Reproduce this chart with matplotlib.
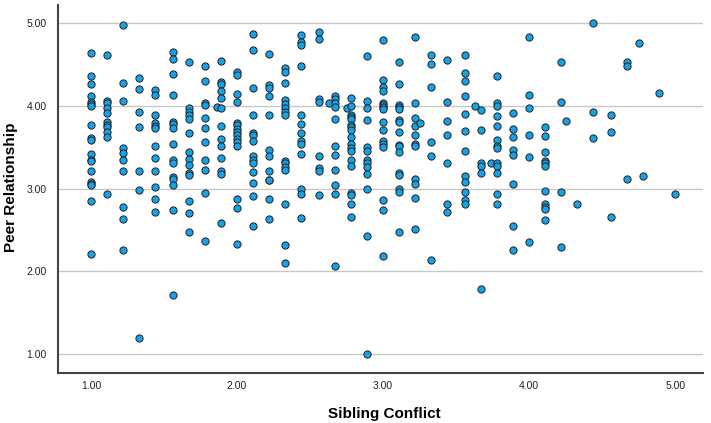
import matplotlib
matplotlib.use("Agg")
import matplotlib.pyplot as plt
import matplotlib.font_manager as fm

# Sibling Conflict (x) and Peer Relationship (y), grouped by x column
sibling_conflict = (
    [1.00]*19 + [1.11]*11 + [1.22]*10 + [1.33]*7 + [1.44]*12 + [1.56]*15 +
    [1.67]*14 + [1.78]*11 + [1.86]*1 + [1.89]*13 + [2.00]*15 + [2.11]*14 +
    [2.22]*12 + [2.33]*15 + [2.44]*13 + [2.56]*8 + [2.63]*1 + [2.67]*11 +
    [2.75]*1 + [2.78]*18 + [2.89]*13 + [3.00]*16 + [3.11]*16 + [3.22]*11 +
    [3.25]*1 + [3.33]*6 + [3.44]*7 + [3.56]*12 + [3.63]*1 + [3.67]*6 +
    [3.74]*1 + [3.78]*13 + [3.89]*8 + [4.00]*6 + [4.11]*11 + [4.22]*4 +
    [4.25]*1 + [4.33]*1 + [4.44]*3 + [4.56]*3 + [4.67]*3 + [4.75]*1 +
    [4.78]*1 + [4.89]*1 + [5.00]*1
)

peer_relationship = [
    # 1.00
    4.64, 4.36, 4.26, 4.12, 4.05, 4.02, 4.00, 3.77, 3.61, 3.59, 3.42, 3.35, 3.33, 3.21, 3.08, 3.06, 3.04, 2.85, 2.21,
    # 1.11
    4.62, 4.06, 4.03, 3.97, 3.92, 3.81, 3.77, 3.74, 3.68, 3.62, 2.93,
    # 1.22
    4.98, 4.28, 4.06, 3.49, 3.43, 3.35, 3.21, 2.78, 2.63, 2.26,
    # 1.33
    4.34, 4.21, 3.93, 3.75, 3.21, 2.98, 1.19,
    # 1.44
    4.19, 4.13, 3.89, 3.79, 3.76, 3.73, 3.52, 3.37, 3.21, 3.02, 2.87, 2.72,
    # 1.56
    4.65, 4.57, 4.39, 4.13, 3.81, 3.78, 3.73, 3.54, 3.35, 3.31, 3.14, 3.12, 3.04, 2.74, 1.71,
    # 1.67
    4.53, 3.97, 3.93, 3.89, 3.84, 3.67, 3.44, 3.36, 3.29, 3.19, 3.16, 2.85, 2.70, 2.48,
    # 1.78
    4.48, 4.30, 4.04, 4.01, 3.85, 3.73, 3.56, 3.35, 3.22, 2.95, 2.37,
    # 1.86
    3.99,
    # 1.89
    4.54, 4.29, 4.26, 4.18, 4.10, 3.97, 3.76, 3.60, 3.51, 3.37, 3.21, 3.18, 2.59,
    # 2.00
    4.41, 4.37, 4.15, 4.05, 3.80, 3.77, 3.72, 3.68, 3.65, 3.60, 3.56, 3.51, 2.88, 2.77, 2.33,
    # 2.11
    4.87, 4.68, 4.22, 3.89, 3.67, 3.65, 3.58, 3.39, 3.35, 3.31, 3.20, 3.07, 2.91, 2.55,
    # 2.22
    4.63, 4.25, 4.22, 4.12, 3.89, 3.47, 3.40, 3.21, 3.11, 3.10, 2.88, 2.63,
    # 2.33
    4.46, 4.41, 4.28, 4.07, 4.02, 3.97, 3.93, 3.89, 3.34, 3.31, 3.26, 3.22, 2.82, 2.32, 2.10,
    # 2.44
    4.86, 4.77, 4.74, 4.48, 3.89, 3.78, 3.67, 3.58, 3.54, 3.42, 3.00, 2.94, 2.65,
    # 2.56
    4.90, 4.81, 4.08, 4.05, 3.39, 3.25, 3.21, 2.92,
    # 2.63
    4.04,
    # 2.67
    4.12, 4.08, 4.03, 3.99, 3.84, 3.52, 3.41, 3.22, 3.04, 2.94, 2.07,
    # 2.75
    3.98,
    # 2.78
    4.10, 4.00, 3.89, 3.87, 3.84, 3.77, 3.74, 3.71, 3.62, 3.54, 3.49, 3.46, 3.35, 3.28, 2.95, 2.92, 2.82, 2.66,
    # 2.89
    4.61, 4.06, 3.97, 3.83, 3.50, 3.46, 3.35, 3.31, 3.26, 3.18, 3.00, 2.43, 1.00,
    # 3.00
    4.80, 4.31, 4.23, 4.18, 4.04, 4.01, 3.99, 3.96, 3.81, 3.71, 3.58, 3.54, 3.50, 2.86, 2.74, 2.18,
    # 3.11
    4.53, 4.26, 4.01, 3.99, 3.96, 3.83, 3.81, 3.69, 3.53, 3.52, 3.44, 3.19, 3.16, 3.00, 2.96, 2.47,
    # 3.22
    4.83, 4.03, 3.86, 3.76, 3.65, 3.54, 3.52, 3.12, 3.06, 2.89, 2.51,
    # 3.25
    3.80,
    # 3.33
    4.62, 4.51, 4.23, 3.57, 3.39, 2.14,
    # 3.44
    4.55, 4.05, 3.82, 3.65, 3.31, 2.82, 2.72,
    # 3.56
    4.62, 4.40, 4.30, 4.12, 3.90, 3.70, 3.45, 3.15, 3.08, 2.96, 2.86, 2.81,
    # 3.63
    4.00,
    # 3.67
    3.95, 3.71, 3.31, 3.27, 3.19, 1.79,
    # 3.74
    3.31,
    # 3.78
    4.36, 4.03, 4.00, 3.88, 3.76, 3.59, 3.51, 3.49, 3.31, 3.27, 3.19, 2.94, 2.82,
    # 3.89
    3.92, 3.72, 3.62, 3.47, 3.41, 3.06, 2.55, 2.26,
    # 4.00
    4.83, 4.13, 3.97, 3.65, 3.38, 2.36,
    # 4.11
    3.75, 3.64, 3.44, 3.34, 3.31, 3.27, 2.97, 2.81, 2.78, 2.75, 2.62,
    # 4.22
    4.53, 4.05, 2.96, 2.30,
    # 4.25
    3.82,
    # 4.33
    2.82,
    # 4.44
    5.00, 3.93, 3.61,
    # 4.56
    3.89, 3.68, 2.66,
    # 4.67
    4.53, 4.48, 3.12,
    # 4.75
    4.76,
    # 4.78
    3.15,
    # 4.89
    4.16,
    # 5.00
    2.93,
]

x_ticks = [1.0, 2.0, 3.0, 4.0, 5.0]
y_ticks = [1.0, 2.0, 3.0, 4.0, 5.0]
x_label = "Sibling Conflict"
y_label = "Peer Relationship"

plt.rcParams['font.family'] = ['Liberation Sans', 'DejaVu Sans']

fig = plt.figure(figsize=(7.11, 4.23), dpi=100)
ax = fig.add_axes([0.0816, 0.118, 0.9074, 0.870])

ax.scatter(sibling_conflict, peer_relationship, s=27, c='#16A2E8',
           edgecolors='#222222', linewidths=0.7, zorder=3)

ax.set_xlim(0.774, 5.192)
ax.set_ylim(0.77, 5.22)
ax.set_xticks(x_ticks)
ax.set_yticks(y_ticks)
ax.set_xticklabels([f"{v:.2f}" for v in x_ticks], fontsize=7.5, color='#222222')
ax.set_yticklabels([f"{v:.2f}" for v in y_ticks], fontsize=7.5, color='#222222')
ax.tick_params(axis='x', length=0, pad=6)
ax.tick_params(axis='y', length=0, pad=8)
ax.yaxis.grid(True, color='#c8c8c8', linewidth=1.0, zorder=0)
ax.set_axisbelow(True)

for side in ['top', 'right']:
    ax.spines[side].set_visible(False)
for side in ['left', 'bottom']:
    ax.spines[side].set_color('#444444')
    ax.spines[side].set_linewidth(1.5)

ax.set_xlabel(x_label, fontsize=11, fontweight='bold')
ax.set_ylabel(y_label, fontsize=11, fontweight='bold')
ax.xaxis.set_label_coords((384 - 58) / 645, (373 - 407) / 368)
ax.yaxis.set_label_coords((18 - 58) / 645, (373 - 187) / 368)

fig.savefig("out.png", dpi=100)
